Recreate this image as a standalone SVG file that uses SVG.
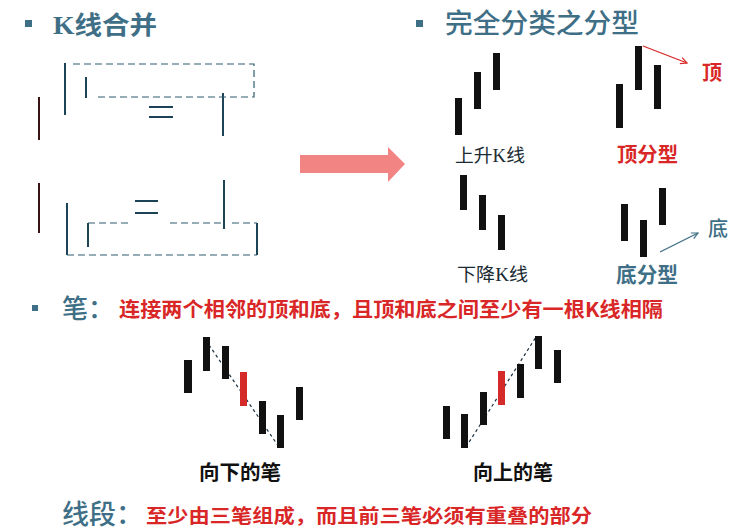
<svg xmlns="http://www.w3.org/2000/svg" width="748" height="531" viewBox="0 0 748 531">
<style>
.teal{fill:#3f6f86}
.red{fill:#d92626}
.title{font-family:"Liberation Serif","Noto Sans CJK SC",serif}
.sans{font-family:"Noto Sans CJK SC",sans-serif}
.serif{font-family:"Liberation Serif","Noto Sans CJK SC",serif}
.k{fill:#111}
.kr{fill:#d42a2a}
.vl{stroke:#1d4356;stroke-width:2;fill:none}
.vr{stroke:#3a1414;stroke-width:2;fill:none}
.dash{stroke:#2f5d72;stroke-width:1.2;stroke-dasharray:7 4;fill:none}
.bdash{stroke:#1a3040;stroke-width:1.2;stroke-dasharray:3 3;fill:none}
</style>
<defs>
<marker id="ahr" viewBox="0 0 10 10" refX="9" refY="5" markerWidth="8" markerHeight="8" orient="auto" markerUnits="userSpaceOnUse">
<path d="M1,1 L9,5 L1,9" fill="none" stroke="#d92626" stroke-width="1.5"/>
</marker>
<marker id="aht" viewBox="0 0 10 10" refX="9" refY="5" markerWidth="8" markerHeight="8" orient="auto" markerUnits="userSpaceOnUse">
<path d="M1,1 L9,5 L1,9" fill="none" stroke="#3f6f86" stroke-width="1.5"/>
</marker>
</defs>
<rect width="748" height="531" fill="#ffffff"/>

<g id="header-kmerge">
<rect x="25" y="20" width="7" height="7" class="teal"/>
<text x="53" y="34" class="title teal" font-size="25" font-weight="bold" textLength="104" lengthAdjust="spacingAndGlyphs">K线合并</text>
</g>

<g id="header-fractal">
<rect x="416" y="20" width="7" height="7" class="teal"/>
<text x="445" y="33" class="sans teal" font-size="27" font-weight="500" textLength="194" lengthAdjust="spacingAndGlyphs">完全分类之分型</text>
</g>

<g id="kmerge-top">
<line x1="39" y1="97" x2="39" y2="140" class="vr"/>
<line x1="65" y1="63" x2="65" y2="115" class="vl"/>
<line x1="86" y1="77" x2="86" y2="98" class="vl"/>
<line x1="223" y1="93" x2="223" y2="136" class="vl"/>
<path d="M73,64 H254 V97 H94" class="dash"/>
<line x1="149" y1="107" x2="173" y2="107" class="vl" stroke-width="1.5"/>
<line x1="149" y1="117" x2="173" y2="117" class="vl" stroke-width="1.5"/>
</g>

<g id="kmerge-bottom">
<line x1="39" y1="183" x2="39" y2="233" class="vr"/>
<line x1="67" y1="203" x2="67" y2="255" class="vl"/>
<line x1="88" y1="223" x2="88" y2="247" class="vl"/>
<line x1="224" y1="180" x2="224" y2="229" class="vl"/>
<line x1="257" y1="223" x2="257" y2="255" class="vl"/>
<path d="M88,223 H132 M170,223 H223 M232,223 H257" class="dash"/>
<path d="M67,255 H257" class="dash"/>
<line x1="135" y1="201" x2="158" y2="201" class="vl" stroke-width="1.5"/>
<line x1="135" y1="213" x2="158" y2="213" class="vl" stroke-width="1.5"/>
</g>

<g id="big-arrow">
<polygon points="300,155 388,155 388,147 405,164 388,182 388,173 300,173" fill="#f38484"/>
</g>

<g id="rising-k">
<rect x="455" y="98" width="7" height="37" class="k"/>
<rect x="474" y="72" width="7" height="37" class="k"/>
<rect x="493" y="53" width="7" height="37" class="k"/>
<text x="455" y="162" class="serif" fill="#1b2b33" font-size="18" textLength="70" lengthAdjust="spacingAndGlyphs">上升K线</text>
</g>

<g id="top-fractal">
<rect x="616" y="84" width="7" height="44" class="k"/>
<rect x="635" y="46" width="7" height="44" class="k"/>
<rect x="654" y="65" width="7" height="44" class="k"/>
<text x="617" y="162" class="sans red" font-size="20" font-weight="bold" textLength="61" lengthAdjust="spacingAndGlyphs">顶分型</text>
<text x="702" y="80" class="sans red" font-size="20" font-weight="bold">顶</text>
</g>

<g id="falling-k">
<rect x="460" y="175" width="7" height="35" class="k"/>
<rect x="479" y="195" width="7" height="35" class="k"/>
<rect x="498" y="215" width="7" height="35" class="k"/>
<text x="457" y="281" class="serif" fill="#1b2b33" font-size="18" textLength="71" lengthAdjust="spacingAndGlyphs">下降K线</text>
</g>

<g id="bottom-fractal">
<rect x="621" y="204" width="7" height="37" class="k"/>
<rect x="640" y="220" width="7" height="37" class="k"/>
<rect x="659" y="188" width="7" height="37" class="k"/>
<text x="616" y="282" class="sans teal" font-size="21" font-weight="bold" textLength="62" lengthAdjust="spacingAndGlyphs">底分型</text>
<text x="708" y="236" class="sans teal" font-size="20" font-weight="500">底</text>
</g>

<g id="connectors">
<line x1="643" y1="46" x2="687" y2="63" stroke="#d92626" stroke-width="1.3" marker-end="url(#ahr)"/>
<line x1="660" y1="252" x2="698" y2="233" stroke="#3f6f86" stroke-width="1.3" marker-end="url(#aht)"/>
<line x1="209" y1="345" x2="279" y2="447" class="bdash"/>
<line x1="466" y1="447" x2="536" y2="337" class="bdash"/>
</g>

<g id="stroke-def">
<rect x="32" y="305" width="6" height="6" class="teal"/>
<text x="62" y="318" class="sans teal" font-size="26" font-weight="500">笔：</text>
<text x="119" y="317" class="sans red" font-size="20" font-weight="bold" textLength="544" lengthAdjust="spacingAndGlyphs">连接两个相邻的顶和底，且顶和底之间至少有一根K线相隔</text>
</g>

<g id="down-stroke">
<rect x="184" y="360" width="8" height="33" class="k"/>
<rect x="203" y="337" width="7" height="34" class="k"/>
<rect x="222" y="346" width="7" height="33" class="k"/>
<rect x="240" y="372" width="7" height="34" class="kr"/>
<rect x="259" y="401" width="7" height="33" class="k"/>
<rect x="277" y="415" width="7" height="33" class="k"/>
<rect x="296" y="387" width="7" height="33" class="k"/>
<text x="199" y="480" class="sans" fill="#111" font-size="20" font-weight="bold" textLength="82" lengthAdjust="spacingAndGlyphs">向下的笔</text>
</g>

<g id="up-stroke">
<rect x="443" y="406" width="7" height="33" class="k"/>
<rect x="461" y="414" width="7" height="34" class="k"/>
<rect x="480" y="392" width="7" height="33" class="k"/>
<rect x="498" y="371" width="7" height="34" class="kr"/>
<rect x="517" y="364" width="7" height="34" class="k"/>
<rect x="535" y="336" width="7" height="33" class="k"/>
<rect x="554" y="350" width="7" height="33" class="k"/>
<text x="473" y="480" class="sans" fill="#111" font-size="20" font-weight="bold" textLength="80" lengthAdjust="spacingAndGlyphs">向上的笔</text>
</g>

<g id="segment-def">
<text x="62" y="524" class="sans teal" font-size="27" font-weight="500">线段：</text>
<text x="146" y="523" class="sans red" font-size="19" font-weight="bold" textLength="446" lengthAdjust="spacingAndGlyphs">至少由三笔组成，而且前三笔必须有重叠的部分</text>
</g>
</svg>
